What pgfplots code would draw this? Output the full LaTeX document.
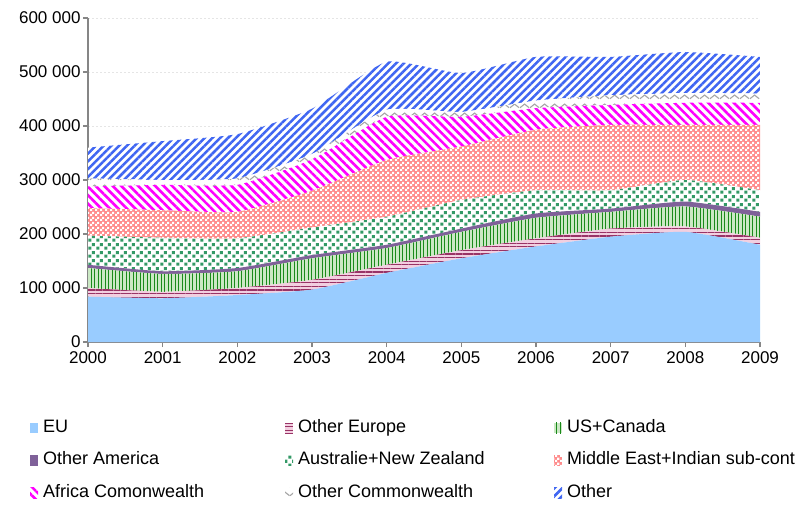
\documentclass[border=0pt]{standalone}
\usepackage{fontspec}
\setmainfont{Liberation Sans}
\usepackage{pgfplots}
\pgfplotsset{compat=1.18}
\usetikzlibrary{patterns,patterns.meta,calc}

\definecolor{cEU}{HTML}{99CCFF}
\definecolor{cOE}{HTML}{993366}
\definecolor{cOEb}{HTML}{F2CFE0}
\definecolor{cUS}{HTML}{1A8A1A}
\definecolor{cUSb}{HTML}{CBE8C4}
\definecolor{cOA}{HTML}{7F6199}
\definecolor{cAU}{HTML}{339966}
\definecolor{cME}{HTML}{FF8C8C}
\definecolor{cAF}{HTML}{FF00FF}
\definecolor{cOC}{HTML}{A6A6A6}
\definecolor{cOT}{HTML}{3F66F2}
\definecolor{axgray}{HTML}{868686}

\tikzdeclarepattern{
  name=sqdots, type=uncolored,
  bounding box={(0pt,0pt) and (8pt,8pt)},
  tile size={(8pt,8pt)},
  code={
    \pgfpathrectangle{\pgfpoint{0.3pt}{0.3pt}}{\pgfpoint{3.4pt}{3.4pt}}
    \pgfpathrectangle{\pgfpoint{4.3pt}{4.3pt}}{\pgfpoint{3.4pt}{3.4pt}}
    \pgfusepath{fill}
  }
}
\tikzdeclarepattern{
  name=checks, type=uncolored,
  bounding box={(0pt,0pt) and (5pt,5pt)},
  tile size={(5pt,5pt)},
  code={
    \pgfpathrectangle{\pgfpoint{0pt}{0pt}}{\pgfpoint{2.5pt}{2.5pt}}
    \pgfpathrectangle{\pgfpoint{2.5pt}{2.5pt}}{\pgfpoint{2.5pt}{2.5pt}}
    \pgfusepath{fill}
  }
}
\tikzdeclarepattern{
  name=zigzag, type=uncolored,
  bounding box={(0pt,0pt) and (10pt,9pt)},
  tile size={(10pt,9pt)},
  code={
    \pgfsetlinewidth{1.2pt}
    \pgfpathmoveto{\pgfpoint{0pt}{2.5pt}}
    \pgfpathlineto{\pgfpoint{5pt}{6.5pt}}
    \pgfpathlineto{\pgfpoint{10pt}{2.5pt}}
    \pgfusepath{stroke}
  }
}

\pgfplotsset{
  layers/mylayers/.define layer set={axis background,axis grid,main,axis ticks,axis lines,axis tick labels,axis descriptions,axis foreground}{},
}

\pgfplotstableread{
year EU OE US OA AU ME AF OC OT
2000 84000 16000 37000 6000 54000 51000 40000 15000 57000
2001 81000 12000 33000 5000 62000 51000 47000 9000 72000
2002 87000 13000 31000 6000 55000 49000 50000 12000 82000
2003 97000 18000 40000 6000 51000 68000 58000 10000 84000
2004 128000 15000 31000 6000 52000 105000 80000 13000 89000
2005 155000 15000 34000 6000 53000 99000 55000 9000 72000
2006 177000 15000 38000 8000 43000 112000 40000 14000 81000
2007 195000 15000 31000 6000 34000 121000 37000 18000 71000
2008 204000 10000 37000 9000 40000 102000 41000 18000 76000
2009 180000 13000 39000 9000 40000 121000 41000 17000 68000
}\datatable

\begin{document}
\begin{tikzpicture}
\begin{axis}[
  name=ax,
  set layers=mylayers,
  scale only axis, width=672pt, height=324pt,
  xmin=2000, xmax=2009, ymin=0, ymax=600000,
  xtick={2000,2001,2002,2003,2004,2005,2006,2007,2008,2009},
  xticklabels={2000,2001,2002,2003,2004,2005,2006,2007,2008,2009},
  ytick={0,100000,200000,300000,400000,500000,600000},
  yticklabels={0,100 000,200 000,300 000,400 000,500 000,600 000},
  scaled y ticks=false,
  axis x line=bottom, axis y line=left,
  axis line style={-, draw=axgray, line width=1.6pt},
  tick style={draw=axgray, line width=1.3pt},
  major tick length=5pt, tick align=outside,
  ticklabel style={font=\fontsize{17}{20}\selectfont, text=black},
  xticklabel style={yshift=-1pt},
  yticklabel style={xshift=1pt},
  ymajorgrids, grid style={draw=gray!20, dash pattern=on 2pt off 2pt, line width=0.5pt},
  stack plots=y,
  every axis plot/.append style={smooth, tension=0.3, draw=none},
  legend columns=3,
  legend cell align=left,
  legend style={draw=none, fill=none, at={(0,0)}, anchor=north west, xshift=-58pt, yshift=-75pt,
    font=\fontsize{18}{21}\selectfont, row sep=11.5pt, column sep=0pt, inner sep=0pt,
    nodes={inner sep=2pt, text height=13pt, text depth=4pt}},
  legend image code/.code={\fill[#1] (0pt,-5.5pt) rectangle (8pt,5pt); \path (11pt,0pt);},
]
\addplot[fill=cEU] table[x=year,y=EU]{\datatable} \closedcycle;
\addlegendentry{\makebox[240pt][l]{EU}}
\addplot[fill=cOEb, postaction={pattern={Lines[angle=0,distance=3.6pt,line width=1.3pt]}, pattern color=cOE}] table[x=year,y=OE]{\datatable} \closedcycle;
\addlegendentry{\makebox[254pt][l]{Other Europe}}
\addplot[fill=cUSb, postaction={pattern={Lines[angle=90,distance=3.5pt,line width=1pt]}, pattern color=cUS}] table[x=year,y=US]{\datatable} \closedcycle;
\addlegendentry{US+Canada}
\addplot[fill=cOA] table[x=year,y=OA]{\datatable} \closedcycle;
\addlegendentry{\makebox[240pt][l]{Other America}}
\addplot[fill=white, postaction={pattern=sqdots, pattern color=cAU}] table[x=year,y=AU]{\datatable} \closedcycle;
\addlegendentry{\makebox[254pt][l]{Australie+New Zealand}}
\addplot[fill=cME, postaction={pattern=checks, pattern color=white}] table[x=year,y=ME]{\datatable} \closedcycle;
\addlegendentry{Middle East+Indian sub-cont}
\addplot[fill=white, postaction={pattern={Lines[angle=-45,distance=6pt,line width=2.6pt]}, pattern color=cAF}] table[x=year,y=AF]{\datatable} \closedcycle;
\addlegendentry{\makebox[240pt][l]{Africa Comonwealth}}
\addplot[fill=white, postaction={pattern=zigzag, pattern color=cOC}] table[x=year,y=OC]{\datatable} \closedcycle;
\addlegendentry{\makebox[254pt][l]{Other Commonwealth}}
\addplot[fill=white, postaction={pattern={Lines[angle=45,distance=5.5pt,line width=2.5pt]}, pattern color=cOT}] table[x=year,y=OT]{\datatable} \closedcycle;
\addlegendentry{Other}
\end{axis}
\pgfresetboundingbox
\path ($(ax.south west)+(-88pt,-164pt)$) rectangle ($(ax.north east)+(36pt,18pt)$);
\end{tikzpicture}
\end{document}
